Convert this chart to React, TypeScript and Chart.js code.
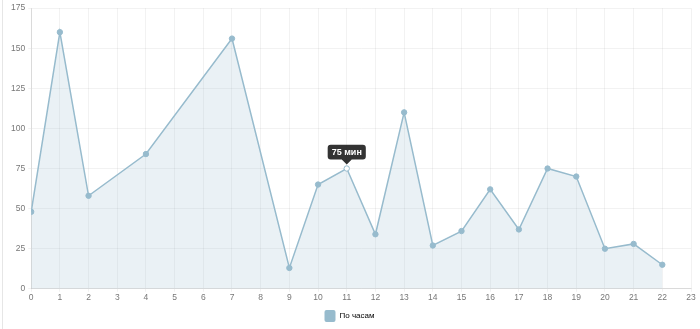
import React, { useEffect, useRef } from "react";
import { Chart, registerables } from "chart.js";

Chart.register(...registerables);

const hours = [0, 1, 2, 4, 7, 9, 10, 11, 12, 13, 14, 15, 16, 17, 18, 19, 20, 21, 22];
const minutes = [48, 160, 58, 84, 156, 13, 65, 75, 34, 110, 27, 36, 62, 37, 75, 70, 25, 28, 15];
const seriesLabel = "По часам";
const unit = "мин";
const activeHour = 11;
const xMin = 0;
const xMax = 23;
const yMin = 0;
const yMax = 175;
const yStep = 25;

const LINE = "rgba(151,187,205,1)";
const FILL = "rgba(151,187,205,0.2)";
const FONT = "'Helvetica Neue', Helvetica, Arial, sans-serif";

export default function App() {
  const ref = useRef<HTMLCanvasElement | null>(null);

  useEffect(() => {
    if (!ref.current) return;
    const chart = new Chart(ref.current, {
      type: "line",
      data: {
        datasets: [
          {
            label: seriesLabel,
            data: hours.map((h, i) => ({ x: h, y: minutes[i] })),
            borderColor: LINE,
            backgroundColor: FILL,
            fill: "origin",
            borderWidth: 1.5,
            tension: 0,
            pointRadius: 2.7,
            pointBackgroundColor: LINE,
            pointBorderColor: LINE,
            pointBorderWidth: 1,
            pointHoverRadius: 2.7,
            pointHoverBackgroundColor: "#fff",
            pointHoverBorderColor: LINE,
            pointHoverBorderWidth: 1,
          },
        ],
      },
      options: {
        responsive: false,
        animation: false,
        events: [],
        layout: { padding: { left: 8, right: 9, top: 5, bottom: -3 } },
        scales: {
          x: {
            type: "linear",
            min: xMin,
            max: xMax,
            ticks: { stepSize: 1, color: "#777", font: { family: FONT, size: 8.5 }, padding: 1 },
            grid: { color: "rgba(0,0,0,0.05)", tickLength: 3 },
            border: { color: "rgba(0,0,0,0.1)" },
          },
          y: {
            min: yMin,
            max: yMax,
            ticks: { stepSize: yStep, color: "#777", font: { family: FONT, size: 8.5 }, padding: 3 },
            grid: { color: "rgba(0,0,0,0.05)", tickLength: 3 },
            border: { color: "rgba(0,0,0,0.1)" },
          },
        },
        plugins: {
          legend: {
            position: "bottom",
            labels: {
              boxWidth: 11,
              boxHeight: 12,
              useBorderRadius: true,
              borderRadius: 2,
              color: "#555",
              font: { family: FONT, size: 8 },
              padding: 6,
              generateLabels: () => [
                {
                  text: seriesLabel,
                  fillStyle: LINE,
                  strokeStyle: LINE,
                  lineWidth: 0,
                  datasetIndex: 0,
                  hidden: false,
                  borderRadius: 2,
                },
              ],
            },
          },
          tooltip: {
            enabled: true,
            displayColors: false,
            backgroundColor: "rgba(0,0,0,0.8)",
            bodyColor: "#fff",
            bodyFont: { family: FONT, size: 9, weight: "bold" },
            padding: { left: 4, right: 4, top: 2, bottom: 2 },
            caretSize: 5,
            caretPadding: 4,
            cornerRadius: 3,
            yAlign: "bottom",
            xAlign: "center",
            callbacks: {
              title: () => "",
              label: (ctx: any) => `${ctx.parsed.y} ${unit}`,
            },
          },
        },
      },
    });

    const idx = hours.indexOf(activeHour);
    const el = chart.getDatasetMeta(0).data[idx];
    const active = [{ datasetIndex: 0, index: idx }];
    chart.setActiveElements(active);
    chart.tooltip?.setActiveElements(active, { x: el.x, y: el.y });
    chart.update();

    return () => chart.destroy();
  }, []);

  return (
    <div style={{ position: "absolute", left: 0, top: 0, width: 700, height: 329, background: "#fff" }}>
      <div style={{ position: "absolute", left: 2, top: 0, width: 1, height: 329, background: "#e6e6e6" }} />
      <canvas ref={ref} width={700} height={329} style={{ position: "absolute", left: 0, top: 0 }} />
    </div>
  );
}
